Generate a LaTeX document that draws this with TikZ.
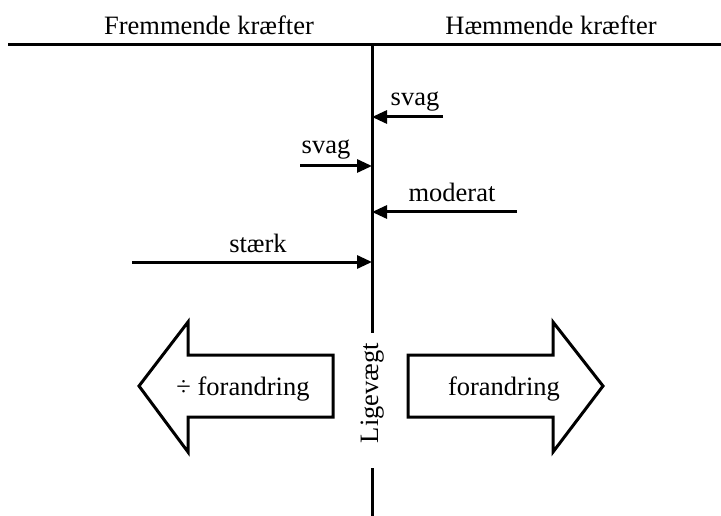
\documentclass[tikz,border=0pt]{standalone}
\usepackage{fontspec}
\setmainfont{Liberation Serif}
\usetikzlibrary{arrows.meta}
\begin{document}
\begin{tikzpicture}[x=1pt,y=-1pt,
  rule/.style={line width=3pt},
  force/.style={line width=3pt,-{Triangle[length=15pt,width=13pt]}},
  bigarrow/.style={line width=3pt,line join=miter,fill=white},
  lbl/.style={font=\fontsize{26.5}{30}\selectfont,anchor=base,inner sep=0pt}]
\useasboundingbox (0,0) rectangle (721,516);

% header
\node[lbl] (fremmende) at (209,35) {Fremmende kræfter};
\node[lbl] (haemmende) at (551,35) {Hæmmende kræfter};
\coordinate (hl) at (8,45);
\coordinate (hr) at (721,45);
\draw[rule] (hl) -- (hr);

% equilibrium axis, broken by its label
\coordinate (axtop) at (372,45);
\coordinate (axmid1) at (372,333);
\coordinate (axmid2) at (372,468);
\coordinate (axbot) at (372,516);
\draw[rule] (axtop) -- (axmid1);
\draw[rule] (axmid2) -- (axbot);
\node[lbl,rotate=90] (lige) at (378,393) {Ligevægt};

% forces
\coordinate (a1s) at (443,117); \coordinate (a1e) at (372,117);
\draw[force] (a1s) -- (a1e);
\node[lbl] (svag1) at (415,106) {svag};

\coordinate (a2s) at (300,166); \coordinate (a2e) at (372,166);
\draw[force] (a2s) -- (a2e);
\node[lbl] (svag2) at (326,154) {svag};

\coordinate (a3s) at (517,212); \coordinate (a3e) at (372,212);
\draw[force] (a3s) -- (a3e);
\node[lbl] (moderat) at (452,202) {moderat};

\coordinate (a4s) at (132,262); \coordinate (a4e) at (372,262);
\draw[force] (a4s) -- (a4e);
\node[lbl] (staerk) at (258,253) {stærk};

% direction of change
\draw[bigarrow] (139,386) -- (188,322) -- (188,355) -- (333,355) -- (333,417)
  -- (188,417) -- (188,452) -- cycle;
\node[lbl] (minus) at (243,395) {÷ forandring};

\draw[bigarrow] (603,386) -- (553,322) -- (553,355) -- (408,355) -- (408,417)
  -- (553,417) -- (553,452) -- cycle;
\node[lbl] (plus) at (504,395) {forandring};
\end{tikzpicture}
\end{document}
